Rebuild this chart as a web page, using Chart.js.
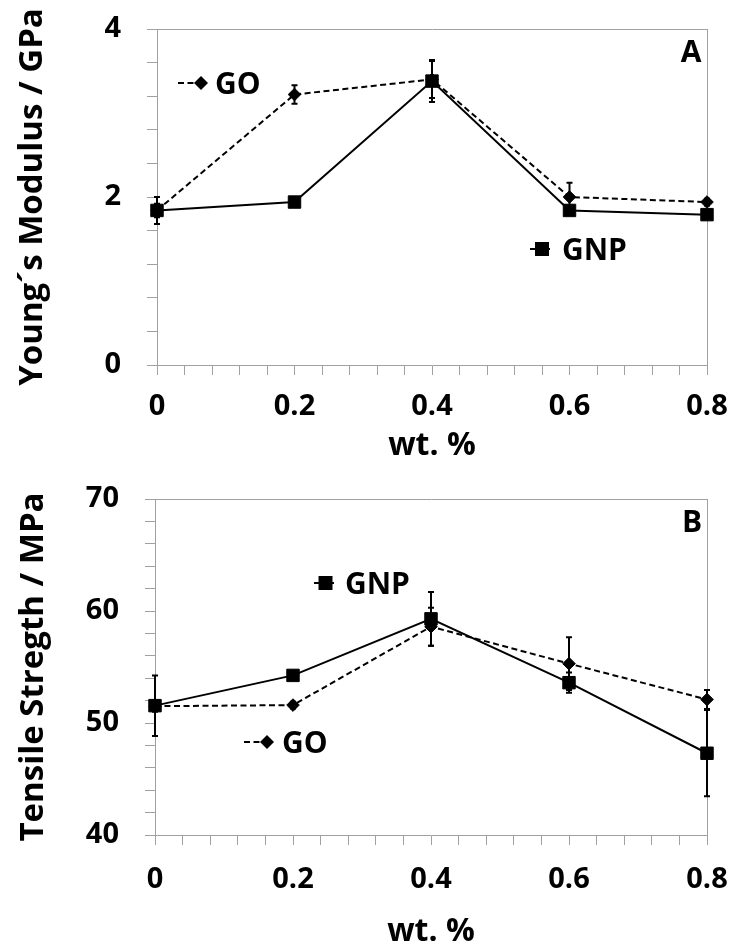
<!DOCTYPE html>
<html>
<head>
<meta charset="utf-8">
<script src="https://cdn.jsdelivr.net/npm/chart.js@4.4.1/dist/chart.umd.min.js"></script>
<style>
  html, body { margin: 0; padding: 0; background: #fff; overflow: hidden; }
  #wrap { position: relative; width: 734px; height: 947px; }
  canvas { position: absolute; left: 0; }
</style>
</head>
<body>
<div id="wrap">
  <canvas id="modulus" width="734" height="470" style="top:0"></canvas>
  <canvas id="strength" width="734" height="477" style="top:470px"></canvas>
</div>
<script>
// filler loading (wt. %)
var wtPercent = [0, 0.2, 0.4, 0.6, 0.8];

// Young's modulus, GPa
var gnpModulus = [1.84, 1.94, 3.38, 1.84, 1.79];
var gnpModulusErr = [0.16, 0.05, 0.25, 0.05, 0.05];
var goModulus = [1.84, 3.22, 3.40, 2.00, 1.94];
var goModulusErr = [0.08, 0.11, 0.22, 0.17, 0.04];

// tensile strength, MPa
var gnpStrength = [51.55, 54.25, 59.3, 53.6, 47.3];
var gnpStrengthErr = [2.7, 0.4, 2.4, 0.9, 3.85];
var goStrength = [51.5, 51.6, 58.6, 55.3, 52.1];
var goStrengthErr = [0.5, 0.3, 1.7, 2.35, 0.85];

var FONT = "'Open Sans', 'Noto Sans', 'DejaVu Sans', sans-serif";
var AXIS_GREY = "#a0a0a0";

function points(ys) {
  return wtPercent.map(function (x, i) { return { x: x, y: ys[i] }; });
}

function drawMarker(ctx, style, x, y) {
  ctx.beginPath();
  if (style === "rect") {
    ctx.rect(x - 7, y - 7, 14, 14);
  } else {
    ctx.moveTo(x, y - 7);
    ctx.lineTo(x + 7, y);
    ctx.lineTo(x, y + 7);
    ctx.lineTo(x - 7, y);
    ctx.closePath();
  }
  ctx.fill();
}

// vertical error bars with small caps, under the markers
var errorBars = {
  id: "errorBars",
  beforeDatasetsDraw: function (chart) {
    var ctx = chart.ctx, xs = chart.scales.x, ys = chart.scales.y;
    ctx.save();
    ctx.strokeStyle = "#000";
    ctx.lineWidth = 2;
    chart.data.datasets.forEach(function (ds) {
      ds.errors.forEach(function (e, i) {
        var pt = ds.data[i];
        var px = xs.getPixelForValue(pt.x);
        var top = ys.getPixelForValue(pt.y + e);
        var bot = ys.getPixelForValue(pt.y - e);
        ctx.beginPath();
        ctx.moveTo(px, top); ctx.lineTo(px, bot);
        ctx.moveTo(px - 3, top); ctx.lineTo(px + 3, top);
        ctx.moveTo(px - 3, bot); ctx.lineTo(px + 3, bot);
        ctx.stroke();
      });
    });
    ctx.restore();
  }
};

// panel letter and the floating series keys
var panelNotes = {
  id: "panelNotes",
  afterDraw: function (chart, args, opts) {
    var ctx = chart.ctx;
    ctx.save();
    ctx.fillStyle = "#000";
    ctx.strokeStyle = "#000";
    ctx.font = "bold 30px " + FONT;
    ctx.textBaseline = "middle";
    ctx.textAlign = "center";
    ctx.fillText(opts.letter, opts.letterX, opts.letterY);
    ctx.textAlign = "left";
    opts.keys.forEach(function (k) {
      var ds = chart.data.datasets[k.dataset];
      ctx.lineWidth = 2;
      ctx.setLineDash(ds.borderDash || []);
      ctx.beginPath();
      ctx.moveTo(k.x0, k.y);
      ctx.lineTo(k.x1, k.y);
      ctx.stroke();
      ctx.setLineDash([]);
      drawMarker(ctx, ds.pointStyle, k.mx, k.y);
      ctx.fillText(ds.label, k.tx, k.y + 2);
    });
    ctx.restore();
  }
};

function frameAxis(position, size) {
  return {
    type: "linear",
    position: position,
    display: true,
    ticks: { display: false },
    grid: { drawOnChartArea: false, drawTicks: false },
    border: { color: AXIS_GREY, width: 1 },
    afterFit: function (s) {
      if (position === "top") s.height = size; else s.width = size;
      s.paddingLeft = s.paddingRight = s.paddingTop = s.paddingBottom = 0;
    }
  };
}

function makePanel(canvasId, cfg) {
  return new Chart(document.getElementById(canvasId), {
    type: "line",
    data: {
      datasets: [
        {
          label: "GNP",
          data: points(cfg.gnp),
          errors: cfg.gnpErr,
          borderColor: "#000",
          backgroundColor: "#000",
          borderWidth: 2,
          pointStyle: "rect",
          pointRadius: 8.8,
          pointBorderWidth: 1,
          tension: 0,
          clip: false
        },
        {
          label: "GO",
          data: points(cfg.go),
          errors: cfg.goErr,
          borderColor: "#000",
          backgroundColor: "#000",
          borderWidth: 2,
          borderDash: [6, 3.5],
          pointStyle: "rectRot",
          pointRadius: 6.3,
          pointBorderWidth: 1,
          tension: 0,
          clip: false
        }
      ]
    },
    options: {
      responsive: false,
      animation: false,
      devicePixelRatio: 1,
      layout: { padding: 0 },
      plugins: {
        legend: { display: false },
        tooltip: { enabled: false },
        panelNotes: cfg.notes
      },
      scales: {
        x: {
          type: "linear",
          position: "bottom",
          min: 0,
          max: 0.8,
          ticks: {
            stepSize: 0.04,
            maxTicksLimit: 100,
            autoSkip: false,
            maxRotation: 0,
            padding: cfg.xTickPad,
            color: "#000",
            font: { family: FONT, size: 29, weight: "bold" },
            callback: function (v) {
              var k = Math.round(v / 0.2);
              if (Math.abs(v - k * 0.2) > 1e-6) return "";
              return k === 0 ? "0" : (k * 0.2).toFixed(1);
            }
          },
          grid: { drawOnChartArea: false, tickLength: 10, color: AXIS_GREY, lineWidth: 1 },
          border: { color: AXIS_GREY, width: 1 },
          title: {
            display: true,
            text: "wt. %",
            color: "#000",
            font: { family: FONT, size: 32, weight: "bold" },
            padding: { top: 0, bottom: cfg.xTitlePad }
          },
          afterFit: function (s) {
            s.height = cfg.xHeight;
            s.paddingLeft = s.paddingRight = 0;
          }
        },
        y: {
          type: "linear",
          position: "left",
          min: cfg.yMin,
          max: cfg.yMax,
          ticks: {
            stepSize: cfg.yMinor,
            maxTicksLimit: 100,
            autoSkip: false,
            padding: 26,
            color: "#000",
            font: { family: FONT, size: 29, weight: "bold" },
            callback: function (v) {
              var k = Math.round(v / cfg.yMajor);
              return Math.abs(v - k * cfg.yMajor) < 1e-6 ? String(k * cfg.yMajor) : "";
            }
          },
          grid: { drawOnChartArea: false, tickLength: 10, color: AXIS_GREY, lineWidth: 1 },
          border: { color: AXIS_GREY, width: 1 },
          title: {
            display: true,
            text: cfg.yTitle,
            color: "#000",
            font: { family: FONT, size: 33, weight: "bold" },
            padding: { top: cfg.yTitlePad, bottom: 0 }
          },
          afterFit: function (s) {
            s.width = cfg.yWidth;
            s.paddingTop = s.paddingBottom = 0;
          }
        },
        x2: frameAxis("top", 29),
        y2: frameAxis("right", 27)
      }
    },
    plugins: [errorBars, panelNotes]
  });
}

makePanel("modulus", {
  gnp: gnpModulus, gnpErr: gnpModulusErr,
  go: goModulus, goErr: goModulusErr,
  yMin: 0, yMax: 4, yMinor: 0.4, yMajor: 2,
  yTitle: "Young\u00b4s Modulus / GPa",
  yWidth: 157, yTitlePad: 13,
  xHeight: 105, xTickPad: 14, xTitlePad: 5,
  notes: {
    letter: "A", letterX: 691, letterY: 53,
    keys: [
      { dataset: 1, x0: 178, x1: 205, mx: 201, y: 83, tx: 215 },
      { dataset: 0, x0: 530, x1: 550, mx: 542, y: 249, tx: 562 }
    ]
  }
});

makePanel("strength", {
  gnp: gnpStrength, gnpErr: gnpStrengthErr,
  go: goStrength, goErr: goStrengthErr,
  yMin: 40, yMax: 70, yMinor: 2, yMajor: 10,
  yTitle: "Tensile Stregth / MPa",
  yWidth: 155, yTitlePad: 14,
  xHeight: 112, xTickPad: 17, xTitlePad: -4,
  notes: {
    letter: "B", letterX: 692, letterY: 53,
    keys: [
      { dataset: 0, x0: 314, x1: 334, mx: 325.5, y: 113, tx: 345 },
      { dataset: 1, x0: 244, x1: 272, mx: 267, y: 272, tx: 282 }
    ]
  }
});
</script>
</body>
</html>
